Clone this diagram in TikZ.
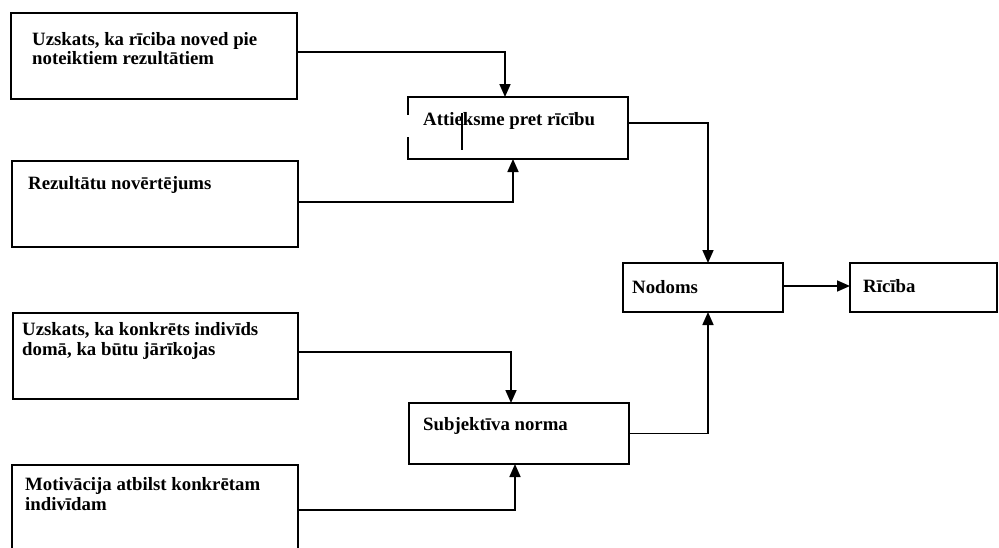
\documentclass[tikz,border=0pt]{standalone}
\usepackage{fontspec}
\setmainfont{Liberation Serif}
\usetikzlibrary{arrows.meta}
\tikzset{
  box/.style={draw, line width=2.2pt, minimum width=#1, inner sep=0pt, outer sep=0pt},
  lbl/.style={anchor=base west, inner sep=0pt, font=\fontsize{18.8}{20}\selectfont\bfseries},
  arr/.style={line width=1.7pt, -{Triangle[length=13pt,width=11pt]}},
}
\begin{document}
\begin{tikzpicture}[x=1pt,y=-1pt]
\useasboundingbox (0,0) rectangle (999,547);
\clip (0,0) rectangle (999,547);
% boxes
\node[box=286pt, minimum height=86pt] (b1) at (154,56) {};
\node[box=220pt, minimum height=62pt] (att) at (518,128) {};
\node[box=286pt, minimum height=86pt] (b2) at (155,204) {};
\node[box=160pt, minimum height=49pt] (nod) at (703,287.5) {};
\node[box=147pt, minimum height=49pt] (ric) at (923.5,287.5) {};
\node[box=285pt, minimum height=86pt] (b3) at (155.5,356) {};
\node[box=220pt, minimum height=61pt] (sub) at (519,433.5) {};
\node[box=286pt, minimum height=120pt] (b4) at (155,525) {};
% artefacts of the attitude box
\fill[white] (405,115) rectangle (411,137);
\draw[line width=1.4pt] (462,113) -- (462,150);
% texts
\node[lbl] (t1a) at (32,45) {Uzskats, ka rīciba noved pie};
\node[lbl] (t1b) at (32,64) {noteiktiem rezultātiem};
\node[lbl] (t2) at (28,189) {Rezultātu novērtējums};
\node[lbl] (t3a) at (22,335) {Uzskats, ka konkrēts indivīds};
\node[lbl] (t3b) at (22,355) {domā, ka būtu jārīkojas};
\node[lbl] (t4a) at (25,490) {Motivācija atbilst konkrētam};
\node[lbl] (t4b) at (25,510) {indivīdam};
\node[lbl] (tatt) at (423,125) {Attieksme pret rīcību};
\node[lbl] (tnod) at (632,293) {Nodoms};
\node[lbl] (tric) at (863,292) {Rīcība};
\node[lbl] (tsub) at (423,430) {Subjektīva norma};
% connectors
\draw[arr] ([yshift=4pt]b1.east) -| ([xshift=-13pt]att.north);
\draw[arr] ([yshift=2pt]b2.east) -| ([xshift=-5pt]att.south);
\draw[arr] ([yshift=5pt]att.east) -| ([xshift=5pt]nod.north);
\draw[arr] ([yshift=4pt]b3.east) -| ([xshift=-8pt]sub.north);
\draw[arr] ([yshift=15pt]b4.east) -| ([xshift=-4pt]sub.south);
\draw[arr] (sub.east) -| ([xshift=5pt]nod.south);
\draw[arr] ([yshift=1.5pt]nod.east) -- ([yshift=1.5pt]ric.west);
\end{tikzpicture}
\end{document}
